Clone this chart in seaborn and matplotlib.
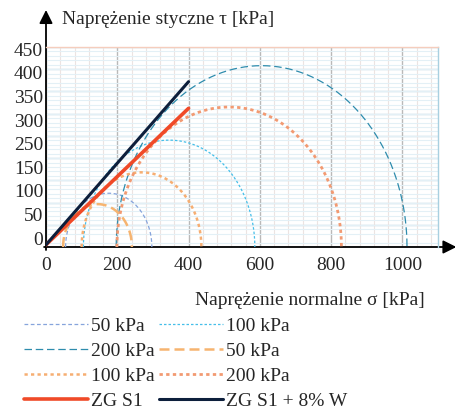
import numpy as np
import matplotlib
matplotlib.use("Agg")
import matplotlib.pyplot as plt
import seaborn as sns
from matplotlib.ticker import MultipleLocator
from matplotlib.patches import FancyArrowPatch

sns.set_theme(style="white")
plt.rcParams['font.family'] = 'serif'
plt.rcParams['font.serif'] = ['Liberation Serif', 'Times New Roman', 'DejaVu Serif']
FS = 14

# ---- data (kPa) ----
# Mohr circles given by minor / major principal stress (sigma3, sigma1)
blue_labels = ["50 kPa", "100 kPa", "200 kPa"]
blue_sigma3 = [55, 105, 197]
blue_sigma1 = [297, 586, 1013]
orange_labels = ["50 kPa", "100 kPa", "200 kPa"]
orange_sigma3 = [48, 100, 199]
orange_sigma1 = [241, 436, 829]
# failure envelopes
env_sigma = [0, 400]
env_tau_zg = [5, 312]
env_tau_zgw = [5, 372]
env_labels = ["ZG S1", "ZG S1 + 8% W"]
# tick labels as printed
xtick_vals = [0, 200, 400, 600, 800, 1000]
ytick_text = ["450", "400", "350", "300", "250", "150", "100", "50", "0"]

fig = plt.figure(figsize=(4.56, 4.11), dpi=100)
ax = fig.add_axes([46/456, 1-247/411, 392/456, 200/411])
ax.set_xlim(0, 1100)
ax.set_ylim(0, 450)

# grid
ax.xaxis.set_major_locator(MultipleLocator(200))
ax.xaxis.set_minor_locator(MultipleLocator(40))
ax.yaxis.set_minor_locator(MultipleLocator(10))
ax.grid(which='minor', axis='x', color='#ece4e2', lw=0.8)
ax.grid(which='minor', axis='y', color='#e3f0f6', lw=0.8)
ax.grid(which='major', axis='x', color='#b9b9b9', lw=1.0)
ax.hlines(np.arange(0, 451, 50), 0, 1100, colors='#b3d6e4', lw=1.0, zorder=0.5)
ax.set_axisbelow(True)

theta = np.linspace(np.pi, 0, 241)
blue_colors = ['#86a4dc', '#45bfe9', '#2e8cad']
blue_ls = [(0, (3, 2)), (0, (2, 1.6)), (0, (6, 3))]
orange_colors = ['#f6b470', '#f6ae72', '#f29a72']
orange_ls = [(0, (4, 2)), (0, (1.3, 1.3)), (0, (1.2, 1.2))]
orange_lw = [1.8, 1.8, 2.0]

for s3, s1, lab, c, ls in zip(blue_sigma3, blue_sigma1, blue_labels, blue_colors, blue_ls):
    cen, r = (s1 + s3) / 2, (s1 - s3) / 2
    sns.lineplot(x=cen + r*np.cos(theta), y=r*np.sin(theta), ax=ax, sort=False,
                 estimator=None, color=c, linestyle=ls, lw=0.9, label=lab, clip_on=False)
for s3, s1, lab, c, ls, lw in zip(orange_sigma3, orange_sigma1, orange_labels, orange_colors, orange_ls, orange_lw):
    cen, r = (s1 + s3) / 2, (s1 - s3) / 2
    sns.lineplot(x=cen + r*np.cos(theta), y=r*np.sin(theta), ax=ax, sort=False,
                 estimator=None, color=c, linestyle=ls, lw=lw, label=lab, clip_on=False)

sns.lineplot(x=env_sigma, y=env_tau_zg, ax=ax, color='#f04a28', lw=2.6,
             label=env_labels[0], sort=False, estimator=None)
sns.lineplot(x=env_sigma, y=env_tau_zgw, ax=ax, color='#0d1f3c', lw=2.2,
             label=env_labels[1], sort=False, estimator=None)

# ticks
ax.set_xticks(xtick_vals)
ax.set_xticklabels([str(v) for v in xtick_vals], fontsize=FS)
ax.set_yticks(np.linspace(445, 20, len(ytick_text)))
ax.set_yticklabels(ytick_text, fontsize=FS)
ax.tick_params(axis='both', which='both', length=0)
ax.tick_params(axis='x', pad=7)
ax.tick_params(axis='y', pad=2)
ax.set_xlabel("")
ax.set_ylabel("")

# spines
for s in ['left', 'bottom']:
    ax.spines[s].set_visible(False)
ax.spines['top'].set_color('#f5cdbd')
ax.spines['right'].set_color('#a9d0e0')
ax.spines['top'].set_linewidth(1.0)
ax.spines['right'].set_linewidth(1.0)

# arrow axes
ya = FancyArrowPatch((0, -0.015), (0, 1.185), transform=ax.transAxes, arrowstyle='-|>',
                     mutation_scale=20, color='black', lw=1.3, clip_on=False, shrinkA=0, shrinkB=0)
xa = FancyArrowPatch((-0.005, 0), (1.047, 0), transform=ax.transAxes, arrowstyle='-|>',
                     mutation_scale=20, color='black', lw=1.3, clip_on=False, shrinkA=0, shrinkB=0)
ax.add_patch(ya)
ax.add_patch(xa)

fig.text(62/456, 1-20/411, "Naprężenie styczne τ [kPa]", fontsize=FS, ha='left', va='center')
fig.text(425/456, 1-300/411, "Naprężenie normalne σ [kPa]", fontsize=FS, ha='right', va='center')

# legend (column-wise fill)
h, l = ax.get_legend_handles_labels()
ax.get_legend().remove()
order = [0, 2, 4, 6, 1, 3, 5, 7]
fig.legend([h[i] for i in order], [l[i] for i in order], ncol=2, loc='upper left',
           bbox_to_anchor=(24/456, 1-317/411), frameon=False, fontsize=FS,
           handlelength=3.3, handletextpad=0.15, columnspacing=0.2,
           labelspacing=0.38, borderpad=0, borderaxespad=0)

fig.savefig("out.png", dpi=100)
